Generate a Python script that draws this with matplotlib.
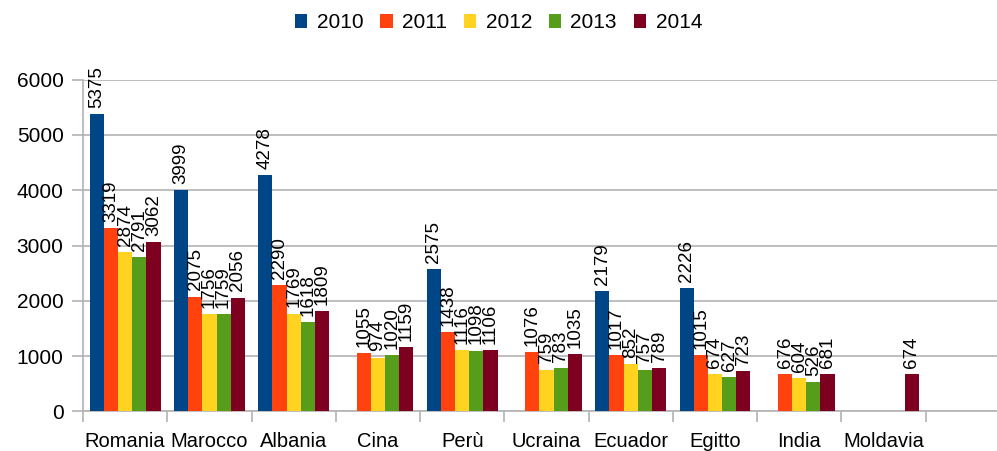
import numpy as np
import matplotlib.pyplot as plt

plt.rcParams['font.family'] = ['Liberation Sans', 'DejaVu Sans']

# data (missing values = None)
paesi = ['Romania', 'Marocco', 'Albania', 'Cina', 'Perù', 'Ucraina',
         'Ecuador', 'Egitto', 'India', 'Moldavia']
anni = ['2010', '2011', '2012', '2013', '2014']
v2010 = [5375, 3999, 4278, None, 2575, None, 2179, 2226, None, None]
v2011 = [3319, 2075, 2290, 1055, 1438, 1076, 1017, 1015, 676, None]
v2012 = [2874, 1756, 1769, 974, 1116, 759, 852, 674, 604, None]
v2013 = [2791, 1759, 1618, 1020, 1098, 783, 757, 627, 526, None]
v2014 = [3062, 2056, 1809, 1159, 1106, 1035, 789, 723, 681, 674]
serie = [v2010, v2011, v2012, v2013, v2014]
colori = ['#004586', '#ff420e', '#ffd320', '#579d1c', '#7e0021']

fig = plt.figure(figsize=(9.97, 4.51), dpi=100)
ax = fig.add_axes([0.0833, 0.0876, 0.9167, 0.736])

x = np.arange(len(paesi))
w = 0.168
for i, (vals, col, anno) in enumerate(zip(serie, colori, anni)):
    pos = x + (i - 2) * w
    h = [v if v is not None else 0 for v in vals]
    bars = ax.bar(pos, h, width=w, color=col, label=anno, zorder=3)
    for b, v in zip(bars, vals):
        if v is None:
            continue
        ax.annotate(str(v), (b.get_x() + b.get_width() / 2, v),
                    xytext=(0, 4.5), textcoords='offset points',
                    rotation=90, ha='center', va='bottom',
                    fontsize=13.5, annotation_clip=False, zorder=4)

ax.set_ylim(0, 6000)
ax.set_xlim(-0.5, 10.347)
ax.set_yticks(range(0, 6001, 1000))
ax.yaxis.grid(True, color='#b3b3b3', linewidth=1.2, zorder=0)

ax.set_xticks(x)
ax.set_xticklabels(paesi, fontsize=14.5)
ax.set_xticks(np.arange(-0.5, 10.5, 1), minor=True)
ax.tick_params(axis='x', which='major', length=0, pad=15)
ax.tick_params(axis='x', which='minor', length=8, color='#b3b3b3', width=1.2)
ax.tick_params(axis='y', length=8, color='#b3b3b3', width=1.2, labelsize=15, pad=6)

for s in ['top', 'right']:
    ax.spines[s].set_visible(False)
for s in ['left', 'bottom']:
    ax.spines[s].set_color('#b3b3b3')
    ax.spines[s].set_linewidth(1.2)

fig.legend(loc='upper center', bbox_to_anchor=(0.5, 1.012), ncol=5, frameon=False,
           fontsize=15, handlelength=0.6, handleheight=0.6, handletextpad=0.45,
           columnspacing=0.8)

plt.savefig('out.png', dpi=100)
